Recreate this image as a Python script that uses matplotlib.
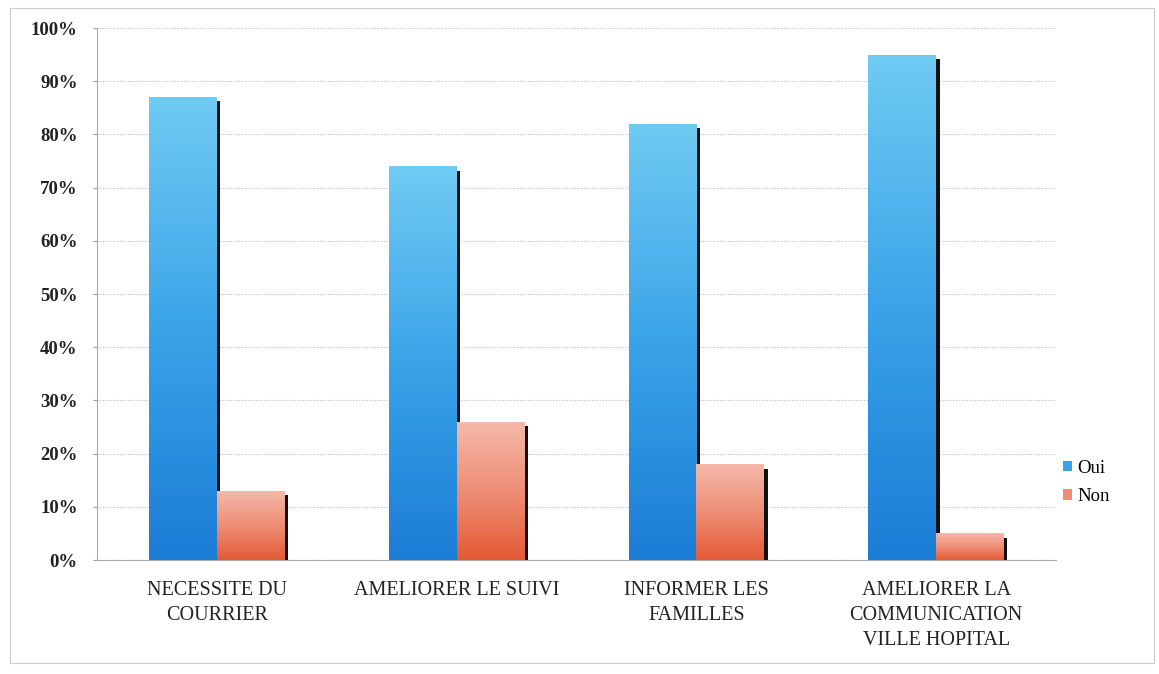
import matplotlib
matplotlib.use("Agg")
import matplotlib.pyplot as plt
import numpy as np
from matplotlib.colors import LinearSegmentedColormap
from matplotlib.patches import Rectangle

categories = ["NECESSITE DU\nCOURRIER", "AMELIORER LE SUIVI", "INFORMER LES\nFAMILLES",
              "AMELIORER LA\nCOMMUNICATION\nVILLE HOPITAL"]
oui = [87, 74, 82, 95]
non = [13, 26, 18, 5]
series_names = ["Oui", "Non"]
yticks = list(range(0, 101, 10))
ytick_labels = [f"{v}%" for v in yticks]

plt.rcParams['font.family'] = ['Liberation Serif', 'DejaVu Serif']

fig = plt.figure(figsize=(11.59, 6.74), dpi=100)
ax = fig.add_axes([0.0837, 0.1691, 0.8275, 0.7893])

x = np.arange(len(categories))
w = 0.283
blue_cmap = LinearSegmentedColormap.from_list("b", ["#1b7cd6", "#3aa3e8", "#70cbf3"])
red_cmap = LinearSegmentedColormap.from_list("r", ["#e35a35", "#ee8e76", "#f6b9aa"])

def grad_bars(xs, hs, cmap, label, color):
    bars = ax.bar(xs, hs, width=w, color=color, label=label, zorder=3, linewidth=0)
    for b in bars:
        bx, by = b.get_x(), b.get_y()
        bw, bh = b.get_width(), b.get_height()
        ax.add_patch(Rectangle((bx + bw, by), 0.014, bh - 0.8,
                               color="#111111", zorder=2, linewidth=0))
        grad = np.linspace(0, 1, 256).reshape(-1, 1)
        im = ax.imshow(grad, extent=[bx, bx + bw, by, by + bh], origin="lower",
                       aspect="auto", cmap=cmap, zorder=4)
        im.set_clip_path(b)
    return bars

grad_bars(x - w / 2, oui, blue_cmap, series_names[0], "#3aa3e8")
grad_bars(x + w / 2, non, red_cmap, series_names[1], "#ee8e76")

ax.set_xlim(-0.5, len(categories) - 0.5)
ax.set_ylim(0, 100)
ax.set_yticks(yticks)
ax.set_yticklabels(ytick_labels, fontsize=13.5, fontweight="bold", color="#222222")
ax.set_xticks(x)
ax.set_xticklabels(categories, fontsize=14.5, color="#222222", linespacing=1.45)
ax.tick_params(axis="x", length=0, pad=15)
ax.tick_params(axis="y", length=3, color="#999999", pad=11)
ax.grid(axis="y", color="#bbbbbb", linestyle=(0, (1, 1.5)), linewidth=0.8, zorder=0)
for s in ["top", "right"]:
    ax.spines[s].set_visible(False)
ax.spines["left"].set_color("#aaaaaa")
ax.spines["bottom"].set_color("#aaaaaa")
ax.spines["left"].set_linewidth(0.8)
ax.spines["bottom"].set_linewidth(0.8)

leg = ax.legend(loc="center left", bbox_to_anchor=(0.99, 0.146), frameon=False,
                fontsize=13.5, handlelength=0.45, handleheight=0.45, handletextpad=0.3,
                labelspacing=0.62)

fig.patches.append(Rectangle((0.009, 0.016), 0.987, 0.972, transform=fig.transFigure,
                             fill=False, edgecolor="#cccccc", linewidth=0.8))

fig.savefig("out.png", dpi=100)
